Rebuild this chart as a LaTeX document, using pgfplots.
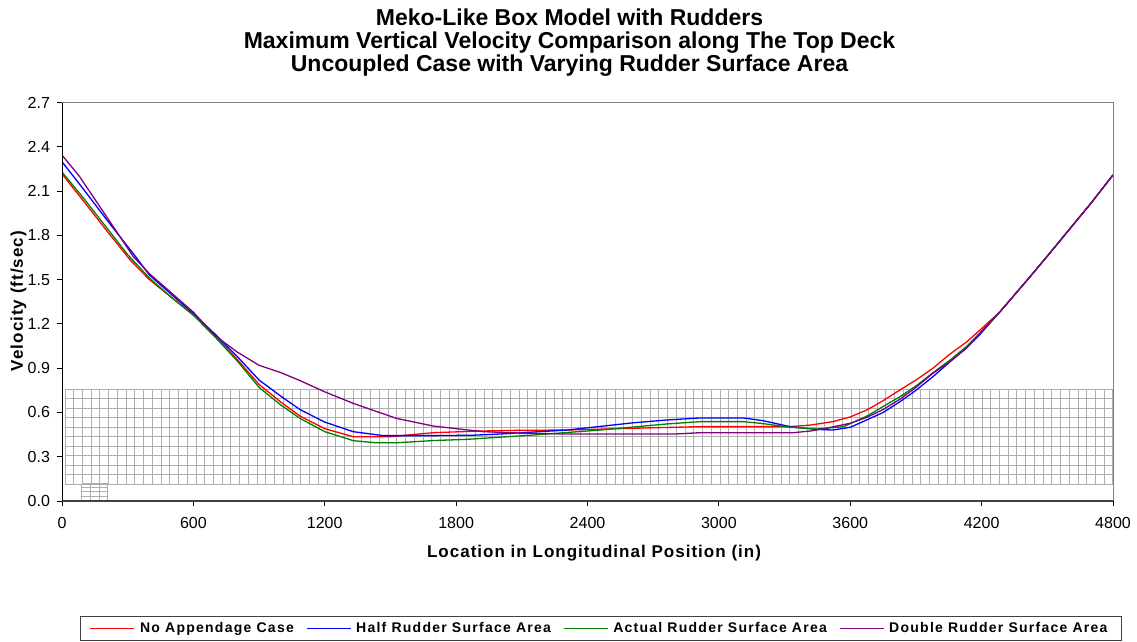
\documentclass[border=0pt]{standalone}
\usepackage{fontspec}
\setmainfont{Liberation Sans}
\newfontfamily\legfont{Liberation Sans}[LetterSpace=9]
\newfontfamily\labfont{Liberation Sans}[LetterSpace=6]
\usepackage{pgfplots}
\pgfplotsset{compat=1.18}
\definecolor{cRed}{RGB}{255,0,0}
\definecolor{cBlue}{RGB}{0,0,255}
\definecolor{cGreen}{RGB}{0,128,0}
\definecolor{cPurple}{RGB}{128,0,128}
\definecolor{gridc}{RGB}{175,175,175}
\begin{document}
\begin{tikzpicture}
\useasboundingbox (-31bp,-70.5bp) rectangle (537.5bp,250.5bp);
% background grid (decoration)
\draw[gridc, line width=0.5bp, shift={(1.5327bp,8.482bp)}, xstep=4.3663bp, ystep=4.75bp] (0,0) grid (524.0bp,47.55bp);
\draw[gridc, line width=0.5bp, shift={(9.96bp,0.5bp)}, xstep=4.343bp, ystep=2.0bp] (0,0) grid (13.1bp,8.05bp);
\begin{axis}[
  at={(0,0)}, anchor=south west,
  scale only axis, width=525.5bp, height=199.15bp,
  xmin=0, xmax=4800, ymin=0, ymax=2.7,
  xtick={0,600,1200,1800,2400,3000,3600,4200,4800},
  ytick={0,0.3,0.6,0.9,1.2,1.5,1.8,2.1,2.4,2.7},
  tick pos=left, tick align=outside, major tick length=2.5bp,
  tick style={black, line width=0.5bp},
  axis line style={draw=none},
  /pgf/number format/assume math mode=true,
  ticklabel style={font=\fontsize{8bp}{9bp}\selectfont},
  xticklabel style={/pgf/number format/1000 sep={}, yshift=-2bp},
  yticklabel style={/pgf/number format/.cd,fixed,fixed zerofill,precision=1},
  legend columns=4,
  legend image code/.code={\draw[#1] (0bp,0bp) -- (22bp,0bp);},
  legend style={at={(1.0086,-0.320)}, anchor=east, draw=black!75, line width=0.5bp,
    font=\legfont\bfseries\fontsize{7bp}{8bp}\selectfont,
    inner xsep=4.5bp, inner ysep=1.5bp,
    nodes={inner xsep=2.5bp, inner ysep=1bp},
    /tikz/every even column/.append style={column sep=3.5bp}},
  every axis plot/.append style={line width=0.65bp},
]
\addplot[cRed] coordinates {
(0,2.217) (100,2.03) (200,1.84) (311,1.634) (400,1.50) (500,1.38) (600,1.26) (700,1.12)
(800,0.96) (900,0.79) (1000,0.67) (1087,0.576) (1200,0.49) (1330,0.436) (1500,0.436)
(1600,0.45) (1696,0.463) (1900,0.474) (2080,0.479) (2306,0.481) (2608,0.493) (2914,0.504)
(3325,0.504) (3420,0.515) (3521,0.538) (3600,0.57) (3676,0.617) (3750,0.68) (3827,0.753)
(3900,0.82) (3978,0.90) (4050,0.99) (4133,1.08) (4193,1.16) (4284,1.283) (4421,1.52)
(4500,1.66) (4600,1.84) (4700,2.02) (4800,2.21)};
\addlegendentry{No Appendage Case}
\addplot[cBlue] coordinates {
(0,2.30) (100,2.11) (200,1.915) (341,1.647) (400,1.53) (500,1.40) (600,1.27) (700,1.13)
(800,0.98) (900,0.82) (1000,0.71) (1087,0.62) (1200,0.535) (1330,0.47) (1467,0.443)
(1700,0.443) (1878,0.446) (2000,0.454) (2306,0.481) (2608,0.53) (2761,0.549) (2914,0.563)
(3111,0.563) (3200,0.545) (3325,0.504) (3450,0.485) (3521,0.481) (3600,0.50) (3676,0.55)
(3750,0.60) (3827,0.673) (3900,0.75) (3978,0.843) (4060,0.95) (4133,1.04) (4193,1.13)
(4284,1.283) (4421,1.52) (4500,1.66) (4600,1.84) (4700,2.02) (4800,2.21)};
\addlegendentry{Half Rudder Surface Area}
\addplot[cGreen] coordinates {
(0,2.23) (100,2.05) (200,1.86) (300,1.67) (400,1.51) (500,1.38) (600,1.26) (700,1.11)
(800,0.95) (900,0.77) (1000,0.65) (1087,0.56) (1200,0.47) (1330,0.409) (1430,0.395)
(1530,0.395) (1700,0.41) (1850,0.418) (2150,0.447) (2457,0.481) (2761,0.522) (2914,0.538)
(3111,0.538) (3200,0.525) (3325,0.50) (3447,0.488) (3570,0.504) (3676,0.576) (3750,0.64)
(3827,0.707) (3900,0.78) (3978,0.87) (4060,0.96) (4133,1.05) (4193,1.14)
(4284,1.283) (4421,1.52) (4500,1.66) (4600,1.84) (4700,2.02) (4800,2.21)};
\addlegendentry{Actual Rudder Surface Area}
\addplot[cPurple] coordinates {
(0,2.345) (80,2.20) (200,1.935) (326,1.656) (400,1.54) (500,1.41) (600,1.28) (700,1.12)
(800,1.01) (900,0.92) (1000,0.87) (1087,0.816) (1200,0.74) (1330,0.662) (1430,0.61)
(1528,0.56) (1696,0.508) (1923,0.47) (2100,0.46) (2300,0.454) (2600,0.454) (2800,0.454)
(2914,0.463) (3340,0.463) (3420,0.475) (3490,0.493) (3600,0.527) (3676,0.567) (3750,0.62)
(3827,0.69) (3900,0.77) (3978,0.866) (4060,0.95) (4133,1.04) (4193,1.14)
(4284,1.283) (4421,1.52) (4500,1.66) (4600,1.84) (4700,2.02) (4800,2.21)};
\addlegendentry{Double Rudder Surface Area}
\end{axis}
% plot-area border and axis lines
\draw[black!50, line width=0.5bp] (0,199.15bp) -- (525.5bp,199.15bp) -- (525.5bp,0);
\draw[black!75, line width=1bp] (0,0) -- (525.5bp,0);
\draw[black, line width=0.5bp] (0,0) -- (0,199.15bp);
% titles
\node[anchor=base, font=\bfseries\fontsize{11.5bp}{12bp}\selectfont, inner sep=0] at (253.75bp,237.5bp) {Meko-Like Box Model with Rudders};
\node[anchor=base, font=\bfseries\fontsize{11.5bp}{12bp}\selectfont, inner sep=0] at (253.75bp,226bp) {Maximum Vertical Velocity Comparison along The Top Deck};
\node[anchor=base, font=\bfseries\fontsize{11.5bp}{12bp}\selectfont, inner sep=0] at (253.75bp,214.5bp) {Uncoupled Case with Varying Rudder Surface Area};
\node[anchor=base, font=\labfont\bfseries\fontsize{8.5bp}{9bp}\selectfont, inner sep=0] at (266bp,-28.15bp) {Location in Longitudinal Position (in)};
\node[rotate=90, font=\labfont\bfseries\fontsize{8.5bp}{9bp}\selectfont, inner sep=0] at (-21.8bp,100bp) {Velocity (ft/sec)};
\end{tikzpicture}
\end{document}
